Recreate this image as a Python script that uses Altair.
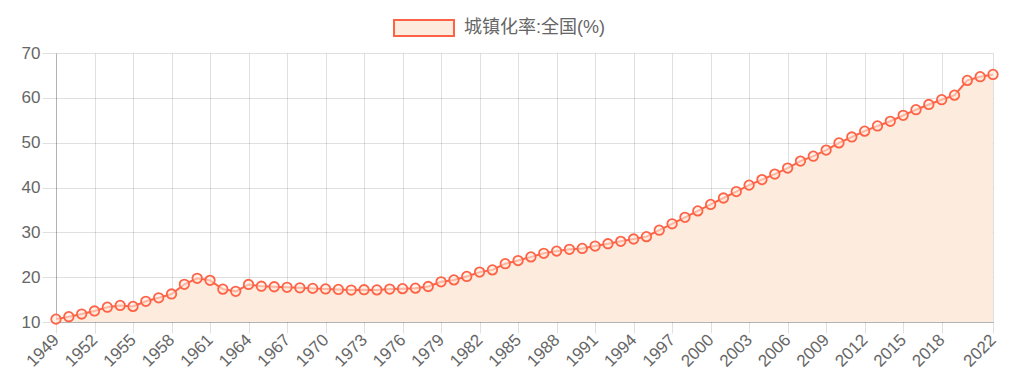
import altair as alt
import pandas as pd

years = list(range(1949, 2023))
rates = [10.64, 11.18, 11.78, 12.46, 13.31, 13.69, 13.48, 14.62, 15.39, 16.25,
         18.41, 19.75, 19.29, 17.33, 16.84, 18.37, 17.98, 17.86, 17.74, 17.62,
         17.50, 17.38, 17.26, 17.13, 17.20, 17.16, 17.34, 17.44, 17.55, 17.92,
         18.96, 19.39, 20.16, 21.13, 21.62, 23.01, 23.71, 24.52, 25.32, 25.81,
         26.21, 26.41, 26.94, 27.46, 27.99, 28.51, 29.04, 30.48, 31.91, 33.35,
         34.78, 36.22, 37.66, 39.09, 40.53, 41.76, 42.99, 44.34, 45.89, 46.99,
         48.34, 49.95, 51.27, 52.57, 53.73, 54.77, 56.10, 57.35, 58.52, 59.58,
         60.60, 63.89, 64.72, 65.22]
series_name = "城镇化率:全国(%)"
x_ticks = list(range(1949, 2020, 3)) + [2022]
y_ticks = [10, 20, 30, 40, 50, 60, 70]

df = pd.DataFrame({"year": years, "rate": rates, "series": series_name})

LINE = "#ff6347"
FILL = "#fdecdd"
FONT = "Liberation Sans, Noto Sans CJK SC, sans-serif"

x = alt.X("year:Q", scale=alt.Scale(domain=[1949, 2022], nice=False, zero=False),
          axis=alt.Axis(values=x_ticks, format="d", title=None, labelAngle=-45,
                        labelAlign="right", labelBaseline="middle", labelPadding=4,
                        tickSize=11, labelFontSize=17, labelColor="#666",
                        labelOverlap=False, labelFlush=False))
y = alt.Y("rate:Q", scale=alt.Scale(domain=[10, 70], nice=False, zero=False),
          axis=alt.Axis(values=y_ticks, title=None, tickSize=14, labelFontSize=17,
                        labelColor="#666", labelPadding=2))

area = alt.Chart(df).mark_area(color=FILL, opacity=1).encode(
    x=x, y=y, y2=alt.datum(10))

line = alt.Chart(df).mark_line(strokeWidth=2).encode(
    x=x, y=y,
    color=alt.Color("series:N", scale=alt.Scale(range=[LINE]),
                    legend=alt.Legend(orient="none", legendX=337, legendY=-56,
                                      title=None, symbolType="M-1,-0.27L1,-0.27L1,0.27L-1,0.27Z",
                                      symbolSize=3600, symbolFillColor=FILL,
                                      symbolStrokeColor="#ff7b5c", symbolStrokeWidth=2,
                                      labelFontSize=18, labelColor="#666",
                                      labelOffset=9, padding=0, labelFont=FONT)))

points = alt.Chart(df).mark_point(shape="circle", size=90, filled=False,
                                  stroke=LINE, strokeWidth=1.8, fill=FILL,
                                  fillOpacity=0.6, opacity=1).encode(x=x, y=y)

chart = alt.layer(area, line, points).properties(
    width=937, height=269,
    autosize=alt.AutoSizeParams(type="none"),
    padding={"left": 48, "top": 45, "right": 11, "bottom": 50},
).configure_view(stroke=None).configure_axis(
    gridColor="#000", gridOpacity=0.12, tickColor="#000", tickOpacity=0.12,
    domainColor="#000", domainOpacity=0.2, labelFont=FONT,
).configure_legend(labelFont=FONT)

chart.save("out.html", embed_options={"renderer": "svg", "actions": False})
